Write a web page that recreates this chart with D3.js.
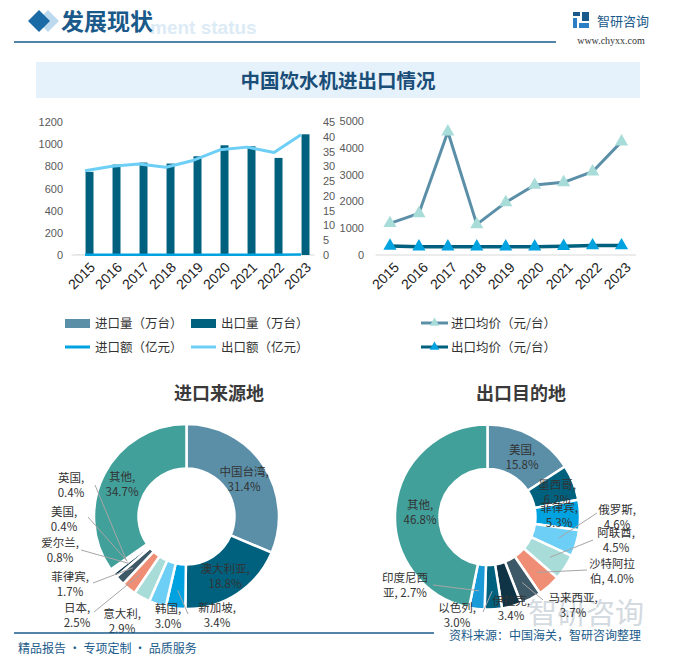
<!DOCTYPE html>
<html><head><meta charset="utf-8">
<script src="https://cdn.jsdelivr.net/npm/d3@7"></script>
<style>body{margin:0;background:#fff}svg{display:block}</style>
</head><body>
<script>
// ---------- DATA ----------
const years = ["2015","2016","2017","2018","2019","2020","2021","2022","2023"];
const importQty   = [0.9,0.6,0.2,0.8,0.5,0.4,0.4,0.3,0.3];          // 万台
const exportQty   = [750,816,834,825,891,990,981,876,1089];       // 万台
const importValue = [0.11,0.09,0.09,0.09,0.10,0.10,0.11,0.09,0.13]; // 亿元
const exportValue = [28.5,30.0,30.8,29.7,32.0,35.6,36.5,34.7,40.7]; // 亿元
const importPrice = [1182,1555,4600,1144,1965,2612,2711,3109,4229]; // 元/台
const exportPrice = [340,310,310,310,310,310,330,355,355];          // 元/台
const qtyTicks   = [0,200,400,600,800,1000,1200];
const valueTicks = [0,5,10,15,20,25,30,35,40,45];
const priceTicks = [0,1000,2000,3000,4000,5000];

const importSources = ["中国台湾","澳大利亚","新加坡","韩国","意大利","日本","菲律宾","爱尔兰","美国","英国","其他"];
const importShares  = [31.4,18.8,3.4,3.0,2.9,2.5,1.7,0.8,0.4,0.4,34.7];
const exportDests   = ["美国","墨西哥","菲律宾","俄罗斯","阿联酋","沙特阿拉伯","马来西亚","伊拉克","以色列","印度尼西亚","其他"];
const exportShares  = [15.8,6.2,5.3,4.6,4.5,4.0,3.7,3.4,3.0,2.7,46.8];

// ---------- LAYOUT / STYLE ----------
const C = {qi:"#5b8fa8", qe:"#00617f", vi:"#00a2df", ve:"#6dcff6", pi:"#a8dcd8"};
const palIn  = ["#5b8fa8","#00617f","#00a2df","#6dcff6","#a8dcd8","#ef8e75","#3d5866","#123d50","#5b8fa8","#00617f","#42a09b"];
const palOut = ["#5b8fa8","#00617f","#00a2df","#6dcff6","#a8dcd8","#ef8e75","#3d5866","#0f3446","#00617f","#1a9ad6","#42a09b"];
const inLabelPos = [[244,472,null],[225,569,null],[217,608,[188,614]],[168,609,null],[122,614,null],
  [77,608,[94,612]],[70,577,[93,583]],[60,543,[81,550]],[64,512,[88,517]],[71,478,[95,485]],[122,477,null]];
const outLabelPos = [[522,450,null],[557,485,null],[559,508,null],[617,510,[597,513]],[616,533,[593,540]],
  [612,564,[587,570]],[573,598,[543,600]],[511,601,null],[457,608,[483,612]],[405,578,[433,585]],[420,505,null]];

const W=677,H=664;
const svg = d3.select("body").append("svg").attr("width",W).attr("height",H)
  .style("font-family","'Noto Sans CJK SC','Noto Sans',sans-serif");
const numFont = "'Liberation Sans',Arial,sans-serif";
const dark = "#1a5a8a";
const fmt = d3.format("d");

// ---------- HEADER ----------
svg.append("text").attr("x",150).attr("y",34).text("ment status")
  .attr("font-family",numFont).attr("font-weight","bold").attr("font-size",19).attr("fill","#dcebf6");
svg.append("path").attr("d","M48,10 L59,21 L48,32 L37,21 Z").attr("fill","#bcd9ee");
svg.append("path").attr("d","M39,10 L50,21 L39,32 L28,21 Z").attr("fill","#1a6aa6");
svg.append("text").attr("x",61).attr("y",30).text("发展现状").attr("font-size",23)
  .attr("font-weight","bold").attr("fill",dark);
svg.append("line").attr("x1",14).attr("x2",556).attr("y1",42).attr("y2",42).attr("stroke",dark).attr("stroke-width",1.5);
// logo
const lg = svg.append("g").attr("transform","translate(573,12)");
lg.append("rect").attr("x",0).attr("y",0).attr("width",7).attr("height",4).attr("fill",dark);
lg.append("rect").attr("x",0).attr("y",6).attr("width",4).attr("height",10).attr("fill","#2b7fc4");
lg.append("rect").attr("x",9).attr("y",0).attr("width",7).attr("height",9).attr("fill",dark);
lg.append("rect").attr("x",6).attr("y",11).attr("width",10).attr("height",5).attr("fill","#2b7fc4");
svg.append("text").attr("x",597).attr("y",26).text("智研咨询").attr("font-size",13).attr("fill",dark);
svg.append("text").attr("x",611).attr("y",44).attr("text-anchor","middle").text("www.chyxx.com")
  .attr("font-family","'Liberation Serif','DejaVu Serif',serif").attr("font-size",10).attr("fill","#333");

// title box
svg.append("rect").attr("x",36).attr("y",62).attr("width",604).attr("height",36).attr("fill","#e6f2fb");
svg.append("text").attr("x",338).attr("y",88).attr("text-anchor","middle").text("中国饮水机进出口情况")
  .attr("font-size",19.5).attr("font-weight","bold").attr("fill","#1a4e78");

// ---------- LEFT CHART ----------
const x = d3.scaleBand().domain(years).range([71.5,314.5]);
const x1 = d3.scaleBand().domain(["进口量","出口量"]).range([x.bandwidth()/2-8.5, x.bandwidth()/2+8.5]).paddingInner(0.12);
const yQ = d3.scaleLinear().domain([0,1200]).range([255,122]);
const yV = d3.scaleLinear().domain([0,45]).range([255,122]);
const cx = d => x(d)+x.bandwidth()/2;

const gL = svg.append("g");
gL.append("g").attr("transform","translate(63,0)")
  .call(d3.axisLeft(yQ).tickValues(qtyTicks).tickFormat(fmt).tickSize(0).tickPadding(0))
  .call(g=>g.select(".domain").remove())
  .selectAll("text").attr("font-family",numFont).attr("font-size",11).attr("fill","#595959");
gL.append("g").attr("transform","translate(323,0)")
  .call(d3.axisRight(yV).tickValues(valueTicks).tickFormat(fmt).tickSize(0).tickPadding(0))
  .call(g=>g.select(".domain").remove())
  .selectAll("text").attr("font-family",numFont).attr("font-size",11).attr("fill","#595959");
gL.append("line").attr("x1",71.5).attr("x2",314.5).attr("y1",yQ(0)).attr("y2",yQ(0)).attr("stroke","#d9d9d9");

gL.selectAll(".bi").data(years).join("rect").attr("x",d=>x(d)+x1("进口量")).attr("width",x1.bandwidth())
  .attr("y",(d,i)=>yQ(importQty[i])).attr("height",(d,i)=>yQ(0)-yQ(importQty[i])).attr("fill",C.qi);
gL.selectAll(".be").data(years).join("rect").attr("x",d=>x(d)+x1("出口量")).attr("width",x1.bandwidth())
  .attr("y",(d,i)=>yQ(exportQty[i])).attr("height",(d,i)=>yQ(0)-yQ(exportQty[i])).attr("fill",C.qe);
const lineV = d3.line().x((d,i)=>cx(years[i])).y(d=>yV(d));
gL.append("path").attr("d",lineV(importValue)).attr("fill","none").attr("stroke",C.vi).attr("stroke-width",2.5);
gL.append("path").attr("d",lineV(exportValue)).attr("fill","none").attr("stroke",C.ve).attr("stroke-width",3).attr("stroke-linejoin","round");
gL.selectAll(".yl").data(years).join("text")
  .attr("transform",d=>`translate(${cx(d)+4},261) rotate(-45)`).attr("text-anchor","end").attr("dy","0.72em")
  .attr("font-family",numFont).attr("font-size",14).attr("fill","#222").text(d=>d);

// ---------- RIGHT CHART ----------
const xr = d3.scaleBand().domain(years).range([375.5,636]);
const cxr = d => xr(d)+xr.bandwidth()/2;
const yP = d3.scaleLinear().domain([0,5000]).range([255,121]);
const gR = svg.append("g");
gR.append("g").attr("transform","translate(364,0)")
  .call(d3.axisLeft(yP).tickValues(priceTicks).tickFormat(fmt).tickSize(0).tickPadding(0))
  .call(g=>g.select(".domain").remove())
  .selectAll("text").attr("font-family",numFont).attr("font-size",11).attr("fill","#595959");
gR.append("line").attr("x1",375.5).attr("x2",636).attr("y1",yP(0)).attr("y2",yP(0)).attr("stroke","#d9d9d9");
const lineP = d3.line().x((d,i)=>cxr(years[i])).y(d=>yP(d));
const tri = d3.symbol().type(d3.symbolTriangle).size(75);
gR.append("path").attr("d",lineP(importPrice)).attr("fill","none").attr("stroke",C.qi).attr("stroke-width",3).attr("stroke-linejoin","round");
gR.selectAll(".ti").data(importPrice).join("path").attr("d",tri)
  .attr("transform",(d,i)=>`translate(${cxr(years[i])},${yP(d)})`).attr("fill",C.pi);
gR.append("path").attr("d",lineP(exportPrice)).attr("fill","none").attr("stroke",C.qe).attr("stroke-width",3.5);
gR.selectAll(".te").data(exportPrice).join("path").attr("d",tri)
  .attr("transform",(d,i)=>`translate(${cxr(years[i])},${yP(d)})`).attr("fill",C.vi);
gR.selectAll(".yl").data(years).join("text")
  .attr("transform",d=>`translate(${cxr(d)+3},261) rotate(-45)`).attr("text-anchor","end").attr("dy","0.72em")
  .attr("font-family",numFont).attr("font-size",14).attr("fill","#222").text(d=>d);

// ---------- LEGEND ----------
const lgd = svg.append("g").attr("font-size",12.5).attr("fill","#333");
const legRect = [["进口量（万台）",C.qi,65,323],["出口量（万台）",C.qe,191,323]];
legRect.forEach(([t,c,lx,ly])=>{
  lgd.append("rect").attr("x",lx).attr("y",ly-4).attr("width",25).attr("height",9).attr("fill",c);
  lgd.append("text").attr("x",lx+30).attr("y",ly+5).text(t).attr("fill","#333");
});
const legLine = [["进口额（亿元）",C.vi,65,347],["出口额（亿元）",C.ve,191,347]];
legLine.forEach(([t,c,lx,ly])=>{
  lgd.append("line").attr("x1",lx).attr("x2",lx+25).attr("y1",ly).attr("y2",ly).attr("stroke",c).attr("stroke-width",3);
  lgd.append("text").attr("x",lx+30).attr("y",ly+5).text(t).attr("fill","#333");
});
const legTri = [["进口均价（元/台）",C.qi,C.pi,421,323],["出口均价（元/台）",C.qe,C.vi,421,347]];
legTri.forEach(([t,c,m,lx,ly])=>{
  lgd.append("line").attr("x1",lx).attr("x2",lx+27).attr("y1",ly).attr("y2",ly).attr("stroke",c).attr("stroke-width",3);
  lgd.append("path").attr("d",d3.symbol().type(d3.symbolTriangle).size(40)).attr("transform",`translate(${lx+13.5},${ly})`).attr("fill",m);
  lgd.append("text").attr("x",lx+30).attr("y",ly+5).text(t).attr("fill","#333");
});

// ---------- DONUTS ----------
function donut(names, shares, pal, pos, cxp, cyp, title, tx){
  svg.append("text").attr("x",tx).attr("y",400).attr("text-anchor","middle").text(title)
    .attr("font-size",18).attr("font-weight","bold").attr("fill","#3a3a3a");
  const outer=92.5, inner=48;
  const pie = d3.pie().sort(null).value(d=>d.v);
  const data = pie(names.map((n,i)=>({n, v:shares[i], i})));
  const arc = d3.arc().innerRadius(inner).outerRadius(outer);
  const mid = d3.arc().innerRadius((inner+outer)/2+4).outerRadius((inner+outer)/2+4);
  const g = svg.append("g").attr("transform",`translate(${cxp},${cyp})`);
  g.selectAll("path").data(data).join("path").attr("d",arc).attr("fill",d=>pal[d.data.i])
    .attr("stroke","#fff").attr("stroke-width",2.5);
  data.forEach(d=>{
    const p = pos[d.data.i];
    if(p[2]){
      const c = mid.centroid(d);
      svg.append("line").attr("x1",p[2][0]).attr("y1",p[2][1]).attr("x2",cxp+c[0]).attr("y2",cyp+c[1])
        .attr("stroke","#a6a6a6").attr("stroke-width",1);
    }
  });
  data.forEach(d=>{
    const p = pos[d.data.i]; const n=d.data.n; const pct=d.data.v.toFixed(1)+"%";
    const l1 = n.length>4 ? n.slice(0,4) : n+",";
    const l2 = n.length>4 ? n.slice(4)+", "+pct : pct;
    const t = svg.append("text").attr("text-anchor","middle").attr("font-size",11.5).attr("fill","#333");
    t.append("tspan").attr("x",p[0]).attr("y",p[1]+4).text(l1);
    t.append("tspan").attr("x",p[0]).attr("y",p[1]+19).text(l2);
  });
}
donut(importSources, importShares, palIn, inLabelPos, 186.5, 516.5, "进口来源地", 219);
// watermark near bottom-right
svg.append("text").attr("x",528).attr("y",624).text("智研咨询").attr("font-size",29).attr("fill","#d3dae0");
donut(exportDests, exportShares, palOut, outLabelPos, 487.5, 517, "出口目的地", 521);

// ---------- FOOTER ----------
svg.append("line").attr("x1",14).attr("x2",434).attr("y1",633).attr("y2",633).attr("stroke",dark).attr("stroke-width",1.5);
svg.append("text").attr("x",18).attr("y",653).text("精品报告 · 专项定制 · 品质服务").attr("font-size",12).attr("fill",dark);
svg.append("text").attr("x",449).attr("y",640).text("资料来源：中国海关，智研咨询整理").attr("font-size",12).attr("fill",dark);
</script>
</body></html>
